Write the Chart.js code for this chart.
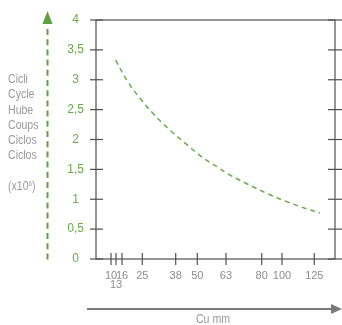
<!DOCTYPE html>
<html><head><meta charset="utf-8">
<script src="https://cdn.jsdelivr.net/npm/chart.js@4/dist/chart.umd.min.js"></script>
<style>
html,body{margin:0;padding:0;background:#fff;}
#wrap{position:relative;width:342px;height:325px;overflow:hidden;}
canvas{position:absolute;left:0;top:0;}
.lbl{position:absolute;font-family:'Liberation Sans Narrow','Liberation Sans',Arial,sans-serif;font-size:12px;color:#9a9a9a;transform:scaleX(0.88);transform-origin:0 0;}
#ylab{left:8px;top:72px;line-height:15.3px;}
#xlab{left:186px;top:312px;width:54px;text-align:center;line-height:14px;transform-origin:50% 0;}
sup{font-size:7px;vertical-align:4px;line-height:0;}
</style></head><body>
<div id="wrap"><canvas id="c" width="342" height="325"></canvas>
<div id="ylab" class="lbl">Cicli<br>Cycle<br>Hube<br>Coups<br>Ciclos<br>Ciclos<br><br>(x10<sup>6</sup>)</div>
<div id="xlab" class="lbl">Cu mm</div>
</div>
<script>
// ---- data ----
const xTickValues = [10, 13, 16, 25, 38, 50, 63, 80, 100, 125];
const yTickStep = 0.5;
const curveMm = [12.8, 18.5, 24, 29.3, 35.4, 43.2, 52, 59.5, 64.1, 72.9, 84.9, 103.6, 119.1, 129.4];
const curveCycles = [3.33, 2.97, 2.69, 2.43, 2.17, 1.94, 1.71, 1.53, 1.42, 1.26, 1.10, 0.96, 0.84, 0.77];

// ---- non-uniform axis layout (where each mm value sits along the axis) ----
const knotVals = [0, 10, 13, 16, 25, 38, 50, 63, 80, 100, 125, 141];
const knotFrac = [0, 0.0628, 0.0837, 0.1088, 0.1937, 0.3335, 0.4238, 0.5439, 0.6933, 0.7782, 0.9134, 1];
function toFrac(v){
  for(let i=1;i<knotVals.length;i++){
    if(v<=knotVals[i]||i===knotVals.length-1){
      const t=(v-knotVals[i-1])/(knotVals[i]-knotVals[i-1]);
      return knotFrac[i-1]+t*(knotFrac[i]-knotFrac[i-1]);
    }
  }
}
function fromFrac(f){
  for(let i=1;i<knotFrac.length;i++){
    if(f<=knotFrac[i]||i===knotFrac.length-1){
      const t=(f-knotFrac[i-1])/(knotFrac[i]-knotFrac[i-1]);
      return knotVals[i-1]+t*(knotVals[i]-knotVals[i-1]);
    }
  }
}
class PiecewiseScale extends Chart.LinearScale {
  getPixelForValue(v){ return v===null?NaN:this.getPixelForDecimal(toFrac(v)); }
  getValueForPixel(p){ return fromFrac(this.getDecimalForPixel(p)); }
}
PiecewiseScale.id='piecewise';
PiecewiseScale.defaults=Chart.LinearScale.defaults;
Chart.register(PiecewiseScale);

const GREEN='#6aaa4a', ARROWGREEN='#5f9f3e', AXIS='#505050', GREY='#8c8c8c';
const FONT="'Liberation Sans Narrow','Liberation Sans',Arial,sans-serif";

const decor={
  id:'decor',
  afterDraw(chart){
    const {ctx,chartArea:a,scales:{x,y}}=chart;
    ctx.save();
    ctx.strokeStyle=AXIS; ctx.lineWidth=1.2;
    const ln=(x1,y1,x2,y2)=>{ctx.beginPath();ctx.moveTo(x1,y1);ctx.lineTo(x2,y2);ctx.stroke();};
    ctx.strokeRect(a.left,a.top,a.right-a.left,a.bottom-a.top);
    y.ticks.forEach((t,i)=>{const py=y.getPixelForTick(i);ln(a.left-6,py,a.left+7,py);ln(a.right-7,py,a.right+7,py);});
    x.ticks.forEach((t,i)=>{const px=x.getPixelForTick(i);ln(px,a.bottom-6,px,a.bottom+6);});
    // bottom arrow
    ctx.strokeStyle='#7a7a7a'; ctx.lineWidth=2;
    ln(87,309,333,309);
    ctx.fillStyle='#7a7a7a';
    ctx.beginPath();ctx.moveTo(331,304);ctx.lineTo(342,309);ctx.lineTo(331,314);ctx.closePath();ctx.fill();
    // left dashed arrow
    ctx.strokeStyle=ARROWGREEN; ctx.lineWidth=2; ctx.setLineDash([6,4.2]);
    ln(47.5,29,47.5,259.5);
    ctx.setLineDash([]);
    ctx.fillStyle=ARROWGREEN;
    ctx.beginPath();ctx.moveTo(42.5,24);ctx.lineTo(47.5,11);ctx.lineTo(52.5,24);ctx.closePath();ctx.fill();
    ctx.restore();
  }
};

new Chart(document.getElementById('c'),{
  type:'line',
  data:{datasets:[{
    data:curveMm.map((v,i)=>({x:v,y:curveCycles[i]})),
    borderColor:GREEN,borderWidth:1.5,borderDash:[5,4],
    pointRadius:0,tension:0.4,fill:false
  }]},
  options:{
    responsive:false,animation:false,
    layout:{padding:{top:20,right:7,left:0,bottom:0}},
    plugins:{legend:{display:false},tooltip:{enabled:false}},
    scales:{
      x:{type:'piecewise',min:0,max:141,
        afterBuildTicks:s=>{s.ticks=xTickValues.map(v=>({value:v}));},
        afterFit:s=>{s.height=66;},
        grid:{display:false,drawTicks:false},border:{display:false},
        ticks:{autoSkip:false,maxRotation:0,minRotation:0,padding:13,color:GREY,
          font:{family:FONT,size:11,lineHeight:0.8},
          callback:v=>v===13?['','13']:String(v)}
      },
      y:{type:'linear',min:0,max:4,
        afterFit:s=>{s.width=96;},
        grid:{display:false,drawTicks:false},border:{display:false},
        ticks:{stepSize:yTickStep,crossAlign:'center',padding:12,color:GREEN,
          font:{family:FONT,size:12},
          callback:v=>String(v).replace('.',',')}
      }
    }
  },
  plugins:[decor]
});
</script>
</body></html>
